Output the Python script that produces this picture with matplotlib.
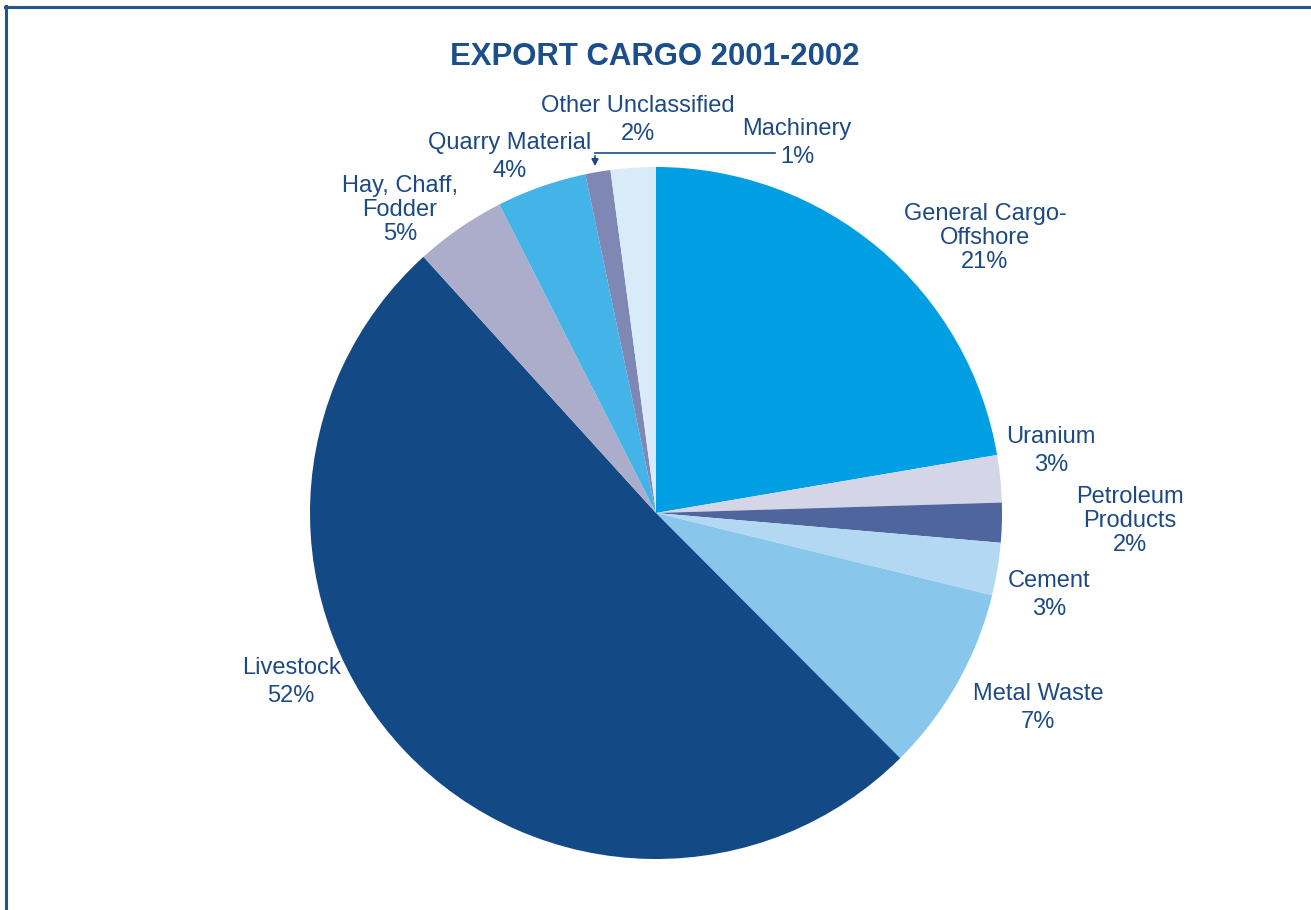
import matplotlib.pyplot as plt
from matplotlib.lines import Line2D
from matplotlib.patches import FancyArrowPatch

plt.rcParams['font.family'] = ['Liberation Sans', 'DejaVu Sans']

# slice data, clockwise from 12 o'clock (shares)
categories = ['General Cargo-\nOffshore', 'Uranium', 'Petroleum\nProducts', 'Cement',
              'Metal Waste', 'Livestock', 'Hay, Chaff,\nFodder', 'Quarry Material',
              'Machinery', 'Other Unclassified']
shares = [22.3, 2.2, 1.85, 2.45, 8.7, 50.7, 4.25, 4.2, 1.17, 2.1]
pct_labels = ['21%', '3%', '2%', '3%', '7%', '52%', '5%', '4%', '1%', '2%']
colors = ['#009FE3', '#D4D5E6', '#4F659E', '#B3D9F2', '#88C6EC',
          '#134A86', '#ABADCB', '#43B3E8', '#7F88B4', '#D9EBF8']

# label centres in pixels (x, y from top)
label_pos = [(985, 238), (1051, 451), (1130, 521), (1049, 595), (1038, 708),
             (291, 682), (400, 210), (510, 157), (797, 143), (638, 120)]

W, H = 1311, 910
txt_col = '#1D4A85'

fig = plt.figure(figsize=(W / 100, H / 100), dpi=100)

cx, cy, r = 656, 513, 346
ax = fig.add_axes([(cx - r) / W, (H - cy - r) / H, 2 * r / W, 2 * r / H])
ax.pie(shares, colors=colors, startangle=90, counterclock=False, radius=1,
       wedgeprops=dict(linewidth=0))
ax.set_xlim(-1, 1)
ax.set_ylim(-1, 1)
ax.set_aspect('equal')
ax.axis('off')

for name, pct, (px, py) in zip(categories, pct_labels, label_pos):
    ls = 1.12 if '\n' in name else 1.32
    fig.text(px / W, 1 - py / H, name + '\n' + pct, ha='center', va='center',
             fontsize=17, color=txt_col, linespacing=ls)

# leader line for Machinery
fig.add_artist(Line2D([775 / W, 595 / W], [1 - 153 / H, 1 - 153 / H],
                      color=txt_col, lw=1.2))
fig.add_artist(FancyArrowPatch(
    (595 / W, 1 - 153 / H), (595 / W, 1 - 169 / H), transform=fig.transFigure,
    arrowstyle='-|>', mutation_scale=10, color=txt_col, lw=1.2))

fig.text(655 / W, 1 - 57 / H, 'EXPORT CARGO 2001-2002', ha='center', va='center',
         fontsize=22.4, fontweight='bold', color='#1B4F8C')

# frame (top and left only)
frame_col = '#1F5591'
fig.add_artist(Line2D([5 / W, 1], [1 - 7.3 / H, 1 - 7.3 / H], color=frame_col, lw=2.2))
fig.add_artist(Line2D([6.3 / W, 6.3 / W], [1 - 6 / H, 0], color=frame_col, lw=2.2))

fig.savefig('out.png', dpi=100)
